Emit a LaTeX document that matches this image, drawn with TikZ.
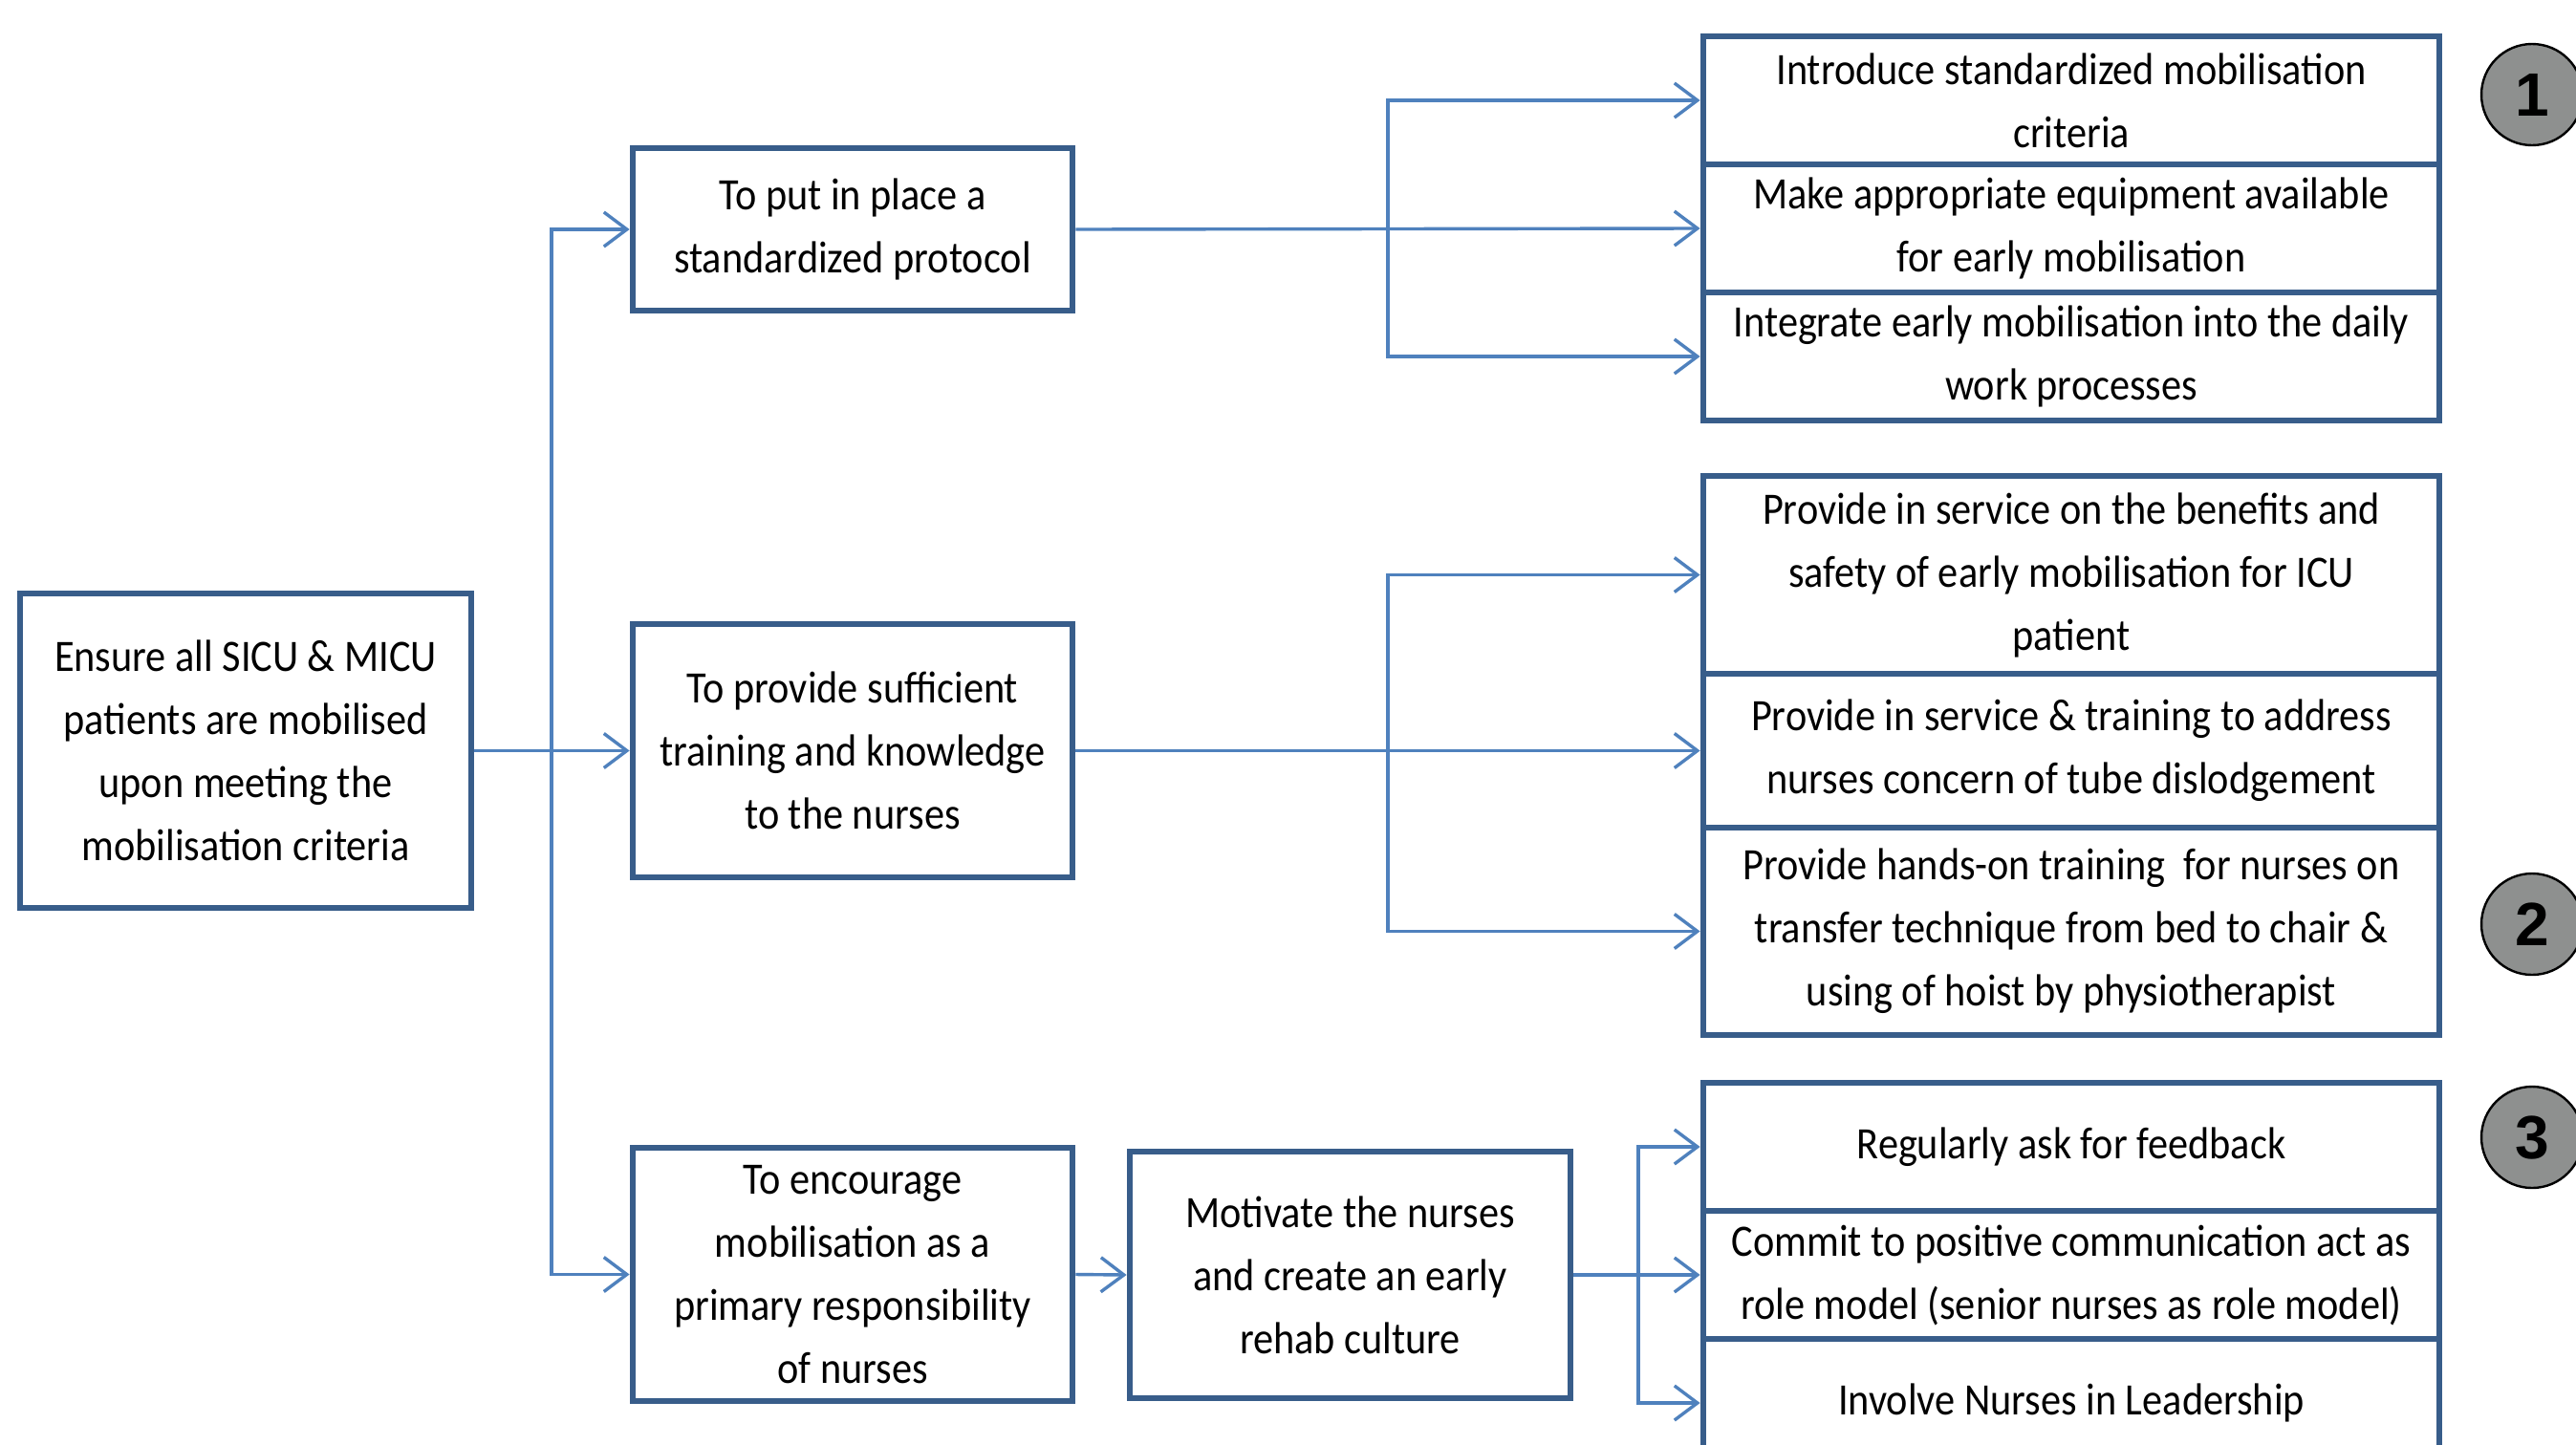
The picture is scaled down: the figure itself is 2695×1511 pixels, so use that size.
\documentclass[tikz,border=0pt]{standalone}
\usepackage{fontspec}
\setmainfont{Carlito}[FakeStretch=0.9]
\newfontfamily\numfont{Liberation Sans}
\usetikzlibrary{arrows.meta}
\definecolor{boxblue}{HTML}{385D8A}
\definecolor{linkblue}{HTML}{4F81BD}
\definecolor{circgray}{HTML}{8E908F}
\begin{document}
\begin{tikzpicture}[x=0.25pt,y=-0.25pt,
  box/.style={draw=boxblue, line width=1.7pt, fill=white, align=center, inner sep=0pt, font=\fontsize{11.75}{16.5}\selectfont},
  midbox/.style={box, minimum width=115pt},
  rbox/.style={box, minimum width=192.5pt},
  conn/.style={draw=linkblue, line width=0.85pt},
  arr/.style={conn, -{Straight Barb[length=6pt,width=9pt]}},
  numc/.style={circle, draw=black, line width=0.6pt, fill=circgray, minimum size=26.5pt, inner sep=0pt, font=\numfont\bfseries\fontsize{16}{16}\selectfont}]
\useasboundingbox (0,0) rectangle (2695,1511);
\clip (0,0) rectangle (2695,1511);

% left box
\node[box, minimum width=118pt, minimum height=82.25pt] (L) at (257,785.5)
  {Ensure all SICU \& MICU\\patients are mobilised\\upon meeting the\\mobilisation criteria};

% middle column
\node[midbox, minimum height=42.5pt] (A) at (892,240) {To put in place a\\standardized protocol};
\node[midbox, minimum height=66.25pt] (B) at (892,785.5) {To provide sufficient\\training and knowledge\\to the nurses};
\node[midbox, minimum height=66.25pt] (C) at (892,1333.5) {To encourage\\mobilisation as a\\primary responsibility\\of nurses};
\node[box, minimum width=115.25pt, minimum height=64.5pt] (M) at (1412.5,1334) {Motivate the nurses\\and create an early\\rehab culture};

% right column group 1
\node[rbox, minimum height=33.5pt] (R1) at (2167,105) {Introduce standardized mobilisation\\criteria};
\node[rbox, minimum height=33.5pt] (R2) at (2167,239) {Make appropriate equipment available\\for early mobilisation};
\node[rbox, minimum height=33.5pt] (R3) at (2167,373) {Integrate early mobilisation into the daily\\work processes};

% group 2
\node[rbox, minimum height=51.75pt] (R4) at (2167,601.5) {Provide in service on the benefits and\\safety of early mobilisation for ICU\\patient};
\node[rbox, minimum height=40.25pt] (R5) at (2167,785.5) {Provide in service \& training to address\\nurses concern of tube dislodgement};
\node[rbox, minimum height=54.25pt] (R6) at (2167,974.5) {Provide hands-on training\ \ for nurses on\\transfer technique from bed to chair \&\\using of hoist by physiotherapist};

% group 3
\node[rbox, minimum height=33.5pt] (R7) at (2167,1200) {Regularly ask for feedback};
\node[rbox, minimum height=33.5pt] (R8) at (2167,1334) {Commit to positive communication act as\\role model (senior nurses as role model)};
\node[rbox, minimum height=33.5pt] (R9) at (2167,1468) {Involve Nurses in Leadership};

% number circles
\node[numc] (n1) at (2649,99) {1};
\node[numc] (n2) at (2649,967) {2};
\node[numc] (n3) at (2649,1190) {3};

% connectors
\coordinate (t0) at (577,785.5);
\draw[arr] (L.east) -- (B.west);
\draw[arr] (t0) |- (A.west);
\draw[arr] (t0) |- (C.west);

\coordinate (t1) at (1452,240);
\draw[arr] (A.east) -- (R2.west);
\draw[arr] (t1) |- (R1.west);
\draw[arr] (t1) |- (R3.west);

\coordinate (t2) at (1452,785.5);
\draw[arr] (B.east) -- (R5.west);
\draw[arr] (t2) |- (R4.west);
\draw[arr] (t2) |- (R6.west);

\draw[arr] (C.east) -- (M.west);

\coordinate (t3) at (1714,1334);
\draw[arr] (M.east) -- (R8.west);
\draw[arr] (t3) |- (R7.west);
\draw[arr] (t3) |- (R9.west);
\end{tikzpicture}
\end{document}
